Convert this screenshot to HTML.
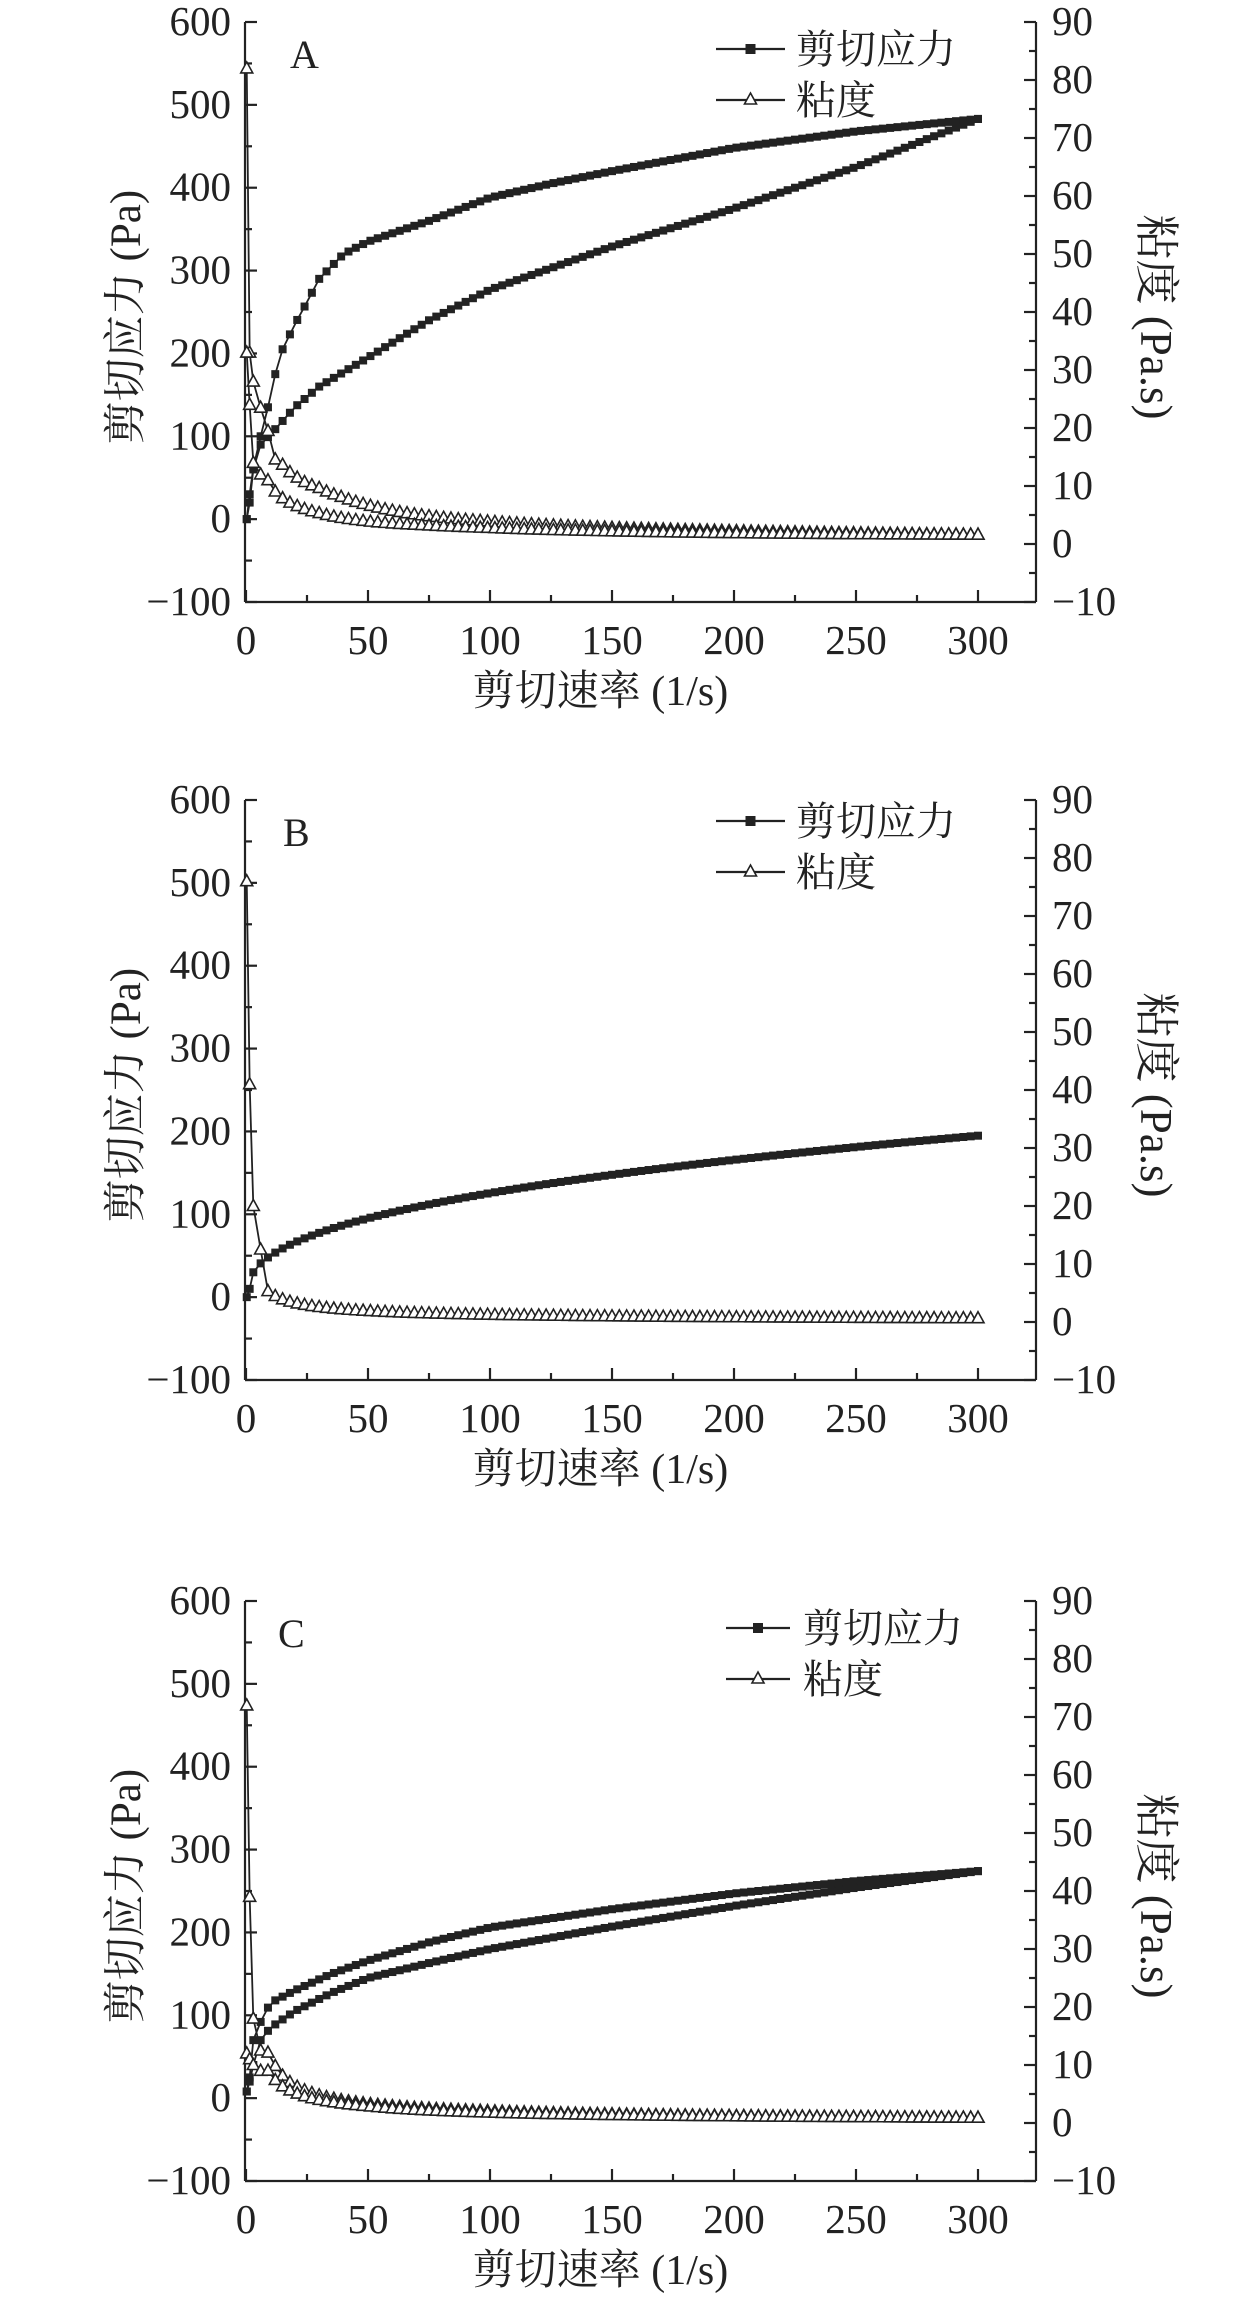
<!DOCTYPE html>
<html><head><meta charset="utf-8"><style>
html,body{margin:0;padding:0;background:#fff;width:1260px;height:2307px;overflow:hidden}
svg text{font-family:"Liberation Serif","Noto Serif CJK SC",serif;fill:#222}
</style></head><body>
<svg id="s" width="1260" height="2307" xmlns="http://www.w3.org/2000/svg"></svg>
<script>
const S=document.getElementById('s');let h='';
const L=245,R=1036,X0=246,XS=(978-246)/300,H=580;
function interp(pts,x){for(let i=0;i<pts.length-1;i++){const a=pts[i],b=pts[i+1];if(x>=a[0]&&x<=b[0]){return a[1]+(b[1]-a[1])*(x-a[0])/(b[0]-a[0]);}}return pts[pts.length-1][1];}
function panel(T,lab,up,down,vEarlyUp,vEarlyDown,leg){
 const Y=v=>T+(600-v)*H/700, YR=v=>T+(90-v)*H/100, X=x=>X0+x*XS;
 const B=T+H;
 h+=`<g stroke="#222" stroke-width="2.2" fill="none"><line x1="${L}" y1="${T}" x2="${L}" y2="${B}"/><line x1="${R}" y1="${T}" x2="${R}" y2="${B}"/><line x1="${L}" y1="${B}" x2="${R}" y2="${B}"/>`;
 for(let v=-100;v<=600;v+=50){const y=Y(v),m=v%100==0;h+=`<line x1="${L}" y1="${y}" x2="${L+(m?12:7)}" y2="${y}"/>`;}
 for(let v=-10;v<=90;v+=5){const y=YR(v),m=v%10==0;h+=`<line x1="${R}" y1="${y}" x2="${R-(m?12:7)}" y2="${y}"/>`;}
 for(let x=0;x<=300;x+=25){const xx=X(x),m=x%50==0;h+=`<line x1="${xx}" y1="${B}" x2="${xx}" y2="${B-(m?12:7)}"/>`;}
 h+='</g>';
 for(let v=-100;v<=600;v+=100)h+=`<text x="${L-14}" y="${Y(v)+13}" font-size="41" text-anchor="end">${v<0?'\u2212'+(-v):v}</text>`;
 for(let v=-10;v<=90;v+=10)h+=`<text x="${R+16}" y="${YR(v)+13}" font-size="41">${v<0?'\u2212'+(-v):v}</text>`;
 for(let x=0;x<=300;x+=50)h+=`<text x="${X(x)}" y="${B+52}" font-size="41" text-anchor="middle">${x}</text>`;
 h+=`<text x="${(L+R)/2-40}" y="${B+103}" font-size="42" text-anchor="middle">剪切速率 (1/s)</text>`;
 h+=`<text transform="translate(140,${T+295}) rotate(-90)" font-size="43" text-anchor="middle">剪切应力 (Pa)</text>`;
 h+=`<text transform="translate(1141,${T+295}) rotate(90)" font-size="45" text-anchor="middle">粘度 (Pa.s)</text>`;
 h+=`<text x="${lab[1]}" y="${T+46}" font-size="40">${lab[0]}</text>`;
 const xs=[0.3,1.5];for(let i=1;i<=100;i++)xs.push(i*3);
 let sq='',tri='',pl1=[],pl2=[],pv1=[],pv2=[];
 const addSq=(x,y)=>{sq+=`<rect x="${x-4}" y="${y-4}" width="8" height="8"/>`};
 const addTri=(x,y)=>{tri+=`<path d="M${x},${y-6.5}L${x+6},${y+4.5}L${x-6},${y+4.5}Z"/>`};
 xs.forEach((x,i)=>{const s=interp(up,x);pl1.push([X(x),Y(s)]);let v=i<vEarlyUp.length?vEarlyUp[i]:s/x;pv1.push([X(x),YR(v)]);});
 if(down){xs.slice().reverse().forEach(x=>{const s=interp(down,x);pl2.push([X(x),Y(s)]);});
  xs.forEach((x,i)=>{const s=interp(down,x);let v=i<vEarlyDown.length?vEarlyDown[i]:s/x;pv2.push([X(x),YR(v)]);});}
 const line=p=>`<polyline points="${p.map(a=>a.join(',')).join(' ')}" fill="none" stroke="#222" stroke-width="1.8"/>`;
 h+=line(pl1);if(down)h+=line(pl2);h+=line(pv1);if(down)h+=line(pv2);
 pl1.concat(pl2).forEach(a=>addSq(a[0],a[1]));pv1.concat(pv2).forEach(a=>addTri(a[0],a[1]));
 h+=`<g fill="#222">${sq}</g><g fill="#fff" stroke="#222" stroke-width="1.6">${tri}</g>`;
 const [lx1,lx2,tx,y1,y2]=leg;
 h+=`<line x1="${lx1}" y1="${T+y1}" x2="${lx2}" y2="${T+y1}" stroke="#222" stroke-width="2.2"/><rect x="${(lx1+lx2)/2-5}" y="${T+y1-5}" width="10" height="10" fill="#222"/>`;
 h+=`<line x1="${lx1}" y1="${T+y2}" x2="${lx2}" y2="${T+y2}" stroke="#222" stroke-width="2.2"/><path d="M${(lx1+lx2)/2},${T+y2-7}L${(lx1+lx2)/2+6},${T+y2+4}L${(lx1+lx2)/2-6},${T+y2+4}Z" fill="#fff" stroke="#222" stroke-width="1.6"/>`;
 h+=`<text x="${tx}" y="${T+y1+14}" font-size="40">剪切应力</text><text x="${tx}" y="${T+y2+14}" font-size="40">粘度</text>`;
}
panel(22,['A',290],
 [[0,0],[0.3,0],[1.5,30],[3,62],[6,100],[9,135],[12,175],[15,205],[20,235],[25,262],[30,290],[35,305],[40,320],[50,335],[60,345],[75,360],[100,388],[125,405],[150,420],[200,448],[250,468],[300,483]],
 [[0,0],[0.3,0],[1.5,20],[3,60],[6,90],[10,102],[20,135],[30,160],[50,195],[75,240],[100,277],[150,329],[200,375],[250,425],[300,483]],
 [82,33,28,23.5,19.5],[33,24,14,12],
 [716,785,796,27,78]);
const bup=[[0,0],[0.3,0],[1.5,10],[3,30]];for(let x=6;x<=300;x+=3)bup.push([x,19.9*Math.pow(x,0.4)]);
panel(800,['B',283],bup,null,[76,41,20,12.5],[],
 [716,785,796,21,72]);
panel(1601,['C',278],
 [[0,0],[0.3,8],[1.5,25],[3,70],[6,92],[10,115],[20,130],[35,150],[50,166],[75,188],[100,206],[150,228],[200,247],[250,262],[300,274]],
 [[0,0],[0.3,8],[1.5,20],[3,40],[6,70],[10,85],[20,105],[35,127],[50,145],[75,163],[100,180],[150,207],[200,232],[250,254],[300,274]],
 [72,39,18,12.5],[12,11,10,9],
 [726,790,803,27,78]);
S.innerHTML=h;
</script>
</body></html>
